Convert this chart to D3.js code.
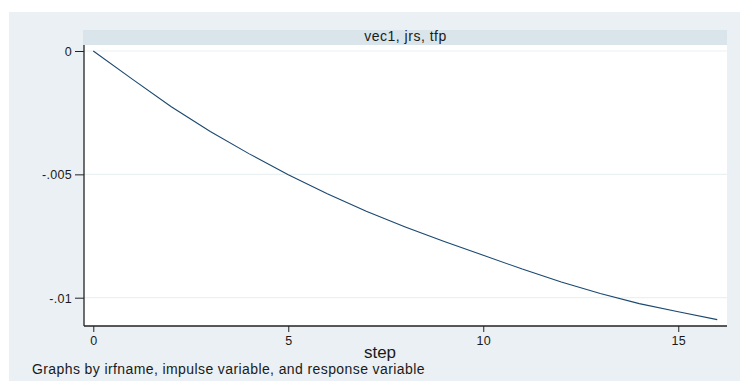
<!DOCTYPE html>
<html>
<head>
<meta charset="utf-8">
<script src="https://cdn.jsdelivr.net/npm/d3@7"></script>
<style>
    body { margin: 0; background: #ffffff; }
    svg text { font-family: "Liberation Sans", Arial, sans-serif; fill: #1a1a1a; }
</style>
</head>
<body>
<div id="chart"></div>
<script>
// irf: vec1, impulse jrs, response tfp
var steps = [0, 1, 2, 3, 4, 5, 6, 7, 8, 9, 10, 11, 12, 13, 14, 15, 16];
var irfValues = [0, -0.00114, -0.00226, -0.00326, -0.00417, -0.00502, -0.00579, -0.00650,
    -0.00713, -0.00772, -0.00828, -0.00884, -0.00936, -0.00983, -0.01024, -0.01057, -0.01089];
var xTicks = [0, 5, 10, 15];
var yTicks = [0, -0.005, -0.01];
var yTickLabels = ["0", "-.005", "-.01"];
var panelTitle = "vec1, jrs, tfp";
var xTitle = "step";
var noteText = "Graphs by irfname, impulse variable, and response variable";

function drawChart(width, height) {
    var svg = d3.select("#chart").append("svg")
        .attr("width", width)
        .attr("height", height);

    // graph region
    svg.append("rect")
        .attr("x", 9).attr("y", 12)
        .attr("width", width - 9).attr("height", height - 12)
        .attr("fill", "#eaf0f3");

    var plot = { left: 84, right: 727, top: 45, bottom: 326 };

    // strip with panel title
    svg.append("rect")
        .attr("x", plot.left - 1).attr("y", 30)
        .attr("width", plot.right - plot.left + 1).attr("height", 15)
        .attr("fill", "#d9e5eb");
    svg.append("text")
        .attr("x", (plot.left + plot.right) / 2)
        .attr("y", 41)
        .attr("text-anchor", "middle")
        .style("font-size", "14px")
        .style("letter-spacing", "0.5px")
        .text(panelTitle);

    // plot region
    svg.append("rect")
        .attr("x", plot.left).attr("y", plot.top)
        .attr("width", plot.right - plot.left).attr("height", plot.bottom - plot.top)
        .attr("fill", "#ffffff");

    var x = d3.scaleLinear()
        .domain([-0.238, 16.25])
        .range([plot.left, plot.right]);
    var y = d3.scaleLinear()
        .domain([-0.011147, 0.000243])
        .range([plot.bottom, plot.top]);

    // grid
    svg.selectAll(".grid")
        .data(yTicks)
        .enter().append("line")
        .attr("class", "grid")
        .attr("x1", plot.left).attr("x2", plot.right)
        .attr("y1", function (d) { return y(d); })
        .attr("y2", function (d) { return y(d); })
        .attr("stroke", "#eaf1f2")
        .attr("stroke-width", 1.2);

    // line
    var line = d3.line()
        .x(function (d, i) { return x(steps[i]); })
        .y(function (d) { return y(d); });
    svg.append("path")
        .datum(irfValues)
        .attr("d", line)
        .attr("fill", "none")
        .attr("stroke", "#1a476f")
        .attr("stroke-width", 1.1);

    // y axis
    var yAxis = d3.axisLeft(y)
        .tickValues(yTicks)
        .tickSize(9)
        .tickPadding(3)
        .tickFormat(function (d, i) { return yTickLabels[i]; });
    var gy = svg.append("g")
        .attr("transform", "translate(" + plot.left + ",0)")
        .call(yAxis);
    gy.select(".domain").attr("d", "M0," + plot.top + "V" + plot.bottom)
        .attr("stroke", "#222").attr("stroke-width", 1.3);
    gy.selectAll(".tick line").attr("stroke", "#222");
    gy.selectAll(".tick text").style("font-size", "12.5px").attr("dy", "0.35em");

    // x axis
    var xAxis = d3.axisBottom(x)
        .tickValues(xTicks)
        .tickSize(6)
        .tickPadding(3);
    var gx = svg.append("g")
        .attr("transform", "translate(0," + plot.bottom + ")")
        .call(xAxis);
    gx.select(".domain").attr("d", "M" + plot.left + ",0H" + plot.right)
        .attr("stroke", "#222").attr("stroke-width", 1.3);
    gx.selectAll(".tick line").attr("stroke", "#222");
    gx.selectAll(".tick text").style("font-size", "12.5px").attr("dy", "0.8em");

    svg.selectAll(".tick text").attr("fill", "#1a1a1a")
        .style("letter-spacing", "0.3px")
        .style("font-family", "'Liberation Sans', Arial, sans-serif");

    // axis title
    svg.append("text")
        .attr("x", 380)
        .attr("y", 358)
        .attr("text-anchor", "middle")
        .style("font-size", "17px")
        .text(xTitle);

    // note
    svg.append("text")
        .attr("x", 32)
        .attr("y", 374)
        .style("font-size", "14px")
        .style("letter-spacing", "0.4px")
        .text(noteText);
}

drawChart(740, 381);
</script>
</body>
</html>
